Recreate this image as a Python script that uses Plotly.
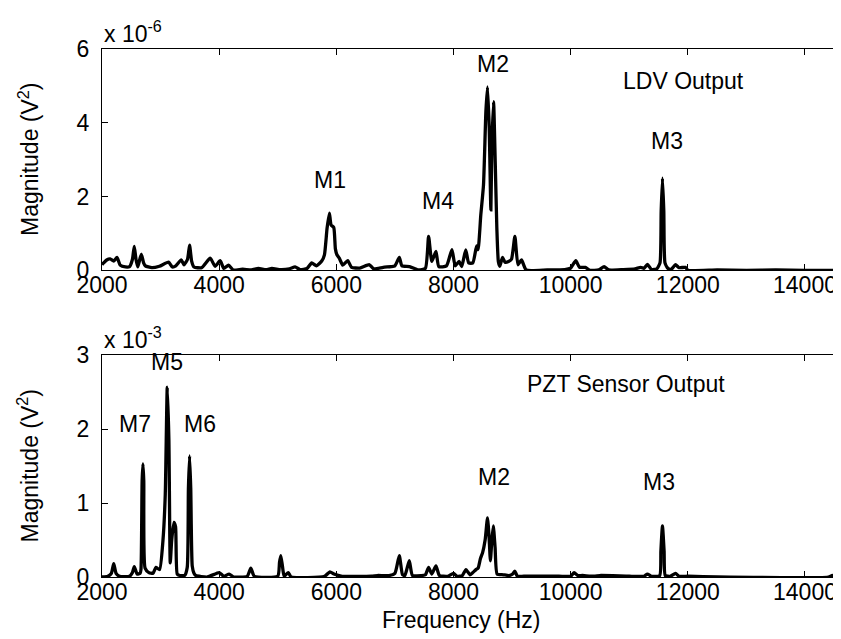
import plotly.graph_objects as go

# ---------------- data ----------------
# LDV output spectrum, magnitude in units of 1e-6 V^2
ldv_freq = [2000, 2028, 2080, 2140, 2200, 2256, 2310, 2400, 2470, 2520, 2551, 2580, 2610,
            2671, 2710, 2740, 2850, 2980, 3137, 3200, 3260, 3353, 3400, 3460, 3495, 3530,
            3570, 3700, 3847, 3930, 4017, 4080, 4160, 4240, 4400, 4550, 4670, 4800, 4900,
            5050, 5200, 5296, 5380, 5500, 5580, 5660, 5751, 5797, 5842, 5882, 5910, 5956,
            5984, 6010, 6050, 6110, 6194, 6260, 6400, 6564, 6640, 6800, 6933, 7000, 7075,
            7120, 7250, 7400, 7520, 7575, 7630, 7700, 7750, 7880, 7973, 8030, 8095, 8140,
            8209, 8260, 8330, 8395, 8420, 8466, 8512, 8553, 8581, 8610, 8638, 8655, 8684,
            8712, 8740, 8766, 8790, 8837, 8880, 8940, 8990, 9048, 9100, 9161, 9240, 9600,
            9900, 10000, 10087, 10150, 10250, 10330, 10480, 10571, 10650, 10900, 11100,
            11195, 11250, 11310, 11380, 11470, 11525, 11545, 11567, 11590, 11610, 11660,
            11720, 11790, 11850, 11960, 12000, 12500, 13000, 13500, 14000, 14700]
ldv_mag = [0.15, 0.20, 0.28, 0.31, 0.25, 0.35, 0.14, 0.09, 0.10, 0.30, 0.65, 0.30, 0.09,
           0.44, 0.20, 0.12, 0.07, 0.11, 0.22, 0.09, 0.12, 0.28, 0.15, 0.30, 0.68, 0.25,
           0.09, 0.07, 0.33, 0.11, 0.26, 0.05, 0.14, 0.01, 0.03, 0.01, 0.05, 0.02, 0.05,
           0.02, 0.04, 0.09, 0.02, 0.05, 0.20, 0.12, 0.25, 0.42, 1.14, 1.55, 1.23, 1.16,
           0.58, 0.42, 0.33, 0.14, 0.26, 0.08, 0.06, 0.15, 0.04, 0.08, 0.10, 0.12, 0.35,
           0.12, 0.10, 0.01, 0.05, 0.92, 0.24, 0.51, 0.10, 0.12, 0.56, 0.12, 0.24, 0.10,
           0.55, 0.20, 0.20, 0.66, 0.56, 1.50, 2.31, 4.30, 4.97, 3.85, 1.64, 3.40, 4.57,
           2.95, 1.14, 0.23, 0.11, 0.35, 0.22, 0.24, 0.30, 0.92, 0.15, 0.28, 0.01, 0.01,
           0.02, 0.06, 0.26, 0.08, 0.08, 0.00, 0.01, 0.10, 0.01, 0.02, 0.04,
           0.08, 0.05, 0.16, 0.02, 0.04, 0.20, 1.60, 2.50, 1.60, 0.20, 0.05,
           0.03, 0.15, 0.07, 0.08, 0.00, 0.01, 0.00, 0.01, 0.00, 0.00]

# PZT sensor output spectrum, magnitude in units of 1e-3 V^2
pzt_freq = [2000, 2100, 2160, 2200, 2240, 2300, 2470, 2520, 2551, 2600, 2650, 2665, 2685,
            2699, 2713, 2735, 2800, 2870, 2920, 2983, 3040, 3080, 3114, 3142, 3165, 3189,
            3228, 3256, 3284, 3330, 3410, 3455, 3475, 3495, 3515, 3540, 3570, 3600, 3800,
            4000, 4080, 4170, 4250, 4480, 4540, 4600, 5000, 5030, 5052, 5080, 5110, 5180,
            5230, 5800, 5890, 5960, 6100, 6600, 6700, 6900, 7000, 7075, 7130, 7170, 7245,
            7300, 7450, 7520, 7575, 7630, 7700, 7760, 7900, 8000, 8060, 8150, 8213, 8280,
            8330, 8384, 8420, 8460, 8497, 8540, 8581, 8610, 8630, 8655, 8680, 8710, 8745,
            8850, 8950, 9010, 9048, 9090, 9200, 9800, 10000, 10060, 10120, 10200, 10400,
            10500, 11000, 11250, 11310, 11380, 11520, 11540, 11567, 11595, 11615, 11700,
            11790, 11850, 12000, 12500, 14400, 14467, 14520, 14700]
pzt_mag = [0.00, 0.01, 0.05, 0.18, 0.05, 0.01, 0.01, 0.06, 0.14, 0.04, 0.05, 0.10, 1.30,
           1.53, 1.30, 0.12, 0.06, 0.05, 0.13, 0.10, 0.49, 1.12, 2.57, 1.85, 0.19, 0.49,
           0.74, 0.68, 0.04, 0.02, 0.02, 0.13, 1.20, 1.64, 1.20, 0.15, 0.05, 0.02, 0.00,
           0.06, 0.01, 0.04, 0.00, 0.01, 0.12, 0.01, 0.01, 0.20, 0.29, 0.15, 0.01, 0.06,
           0.00, 0.01, 0.07, 0.04, 0.01, 0.01, 0.02, 0.02, 0.05, 0.29, 0.03, 0.02, 0.22,
           0.02, 0.02, 0.03, 0.13, 0.04, 0.15, 0.02, 0.01, 0.05, 0.01, 0.02, 0.10, 0.03,
           0.06, 0.10, 0.12, 0.25, 0.33, 0.50, 0.80, 0.50, 0.22, 0.50, 0.69, 0.40, 0.04,
           0.03, 0.02, 0.04, 0.08, 0.01, 0.01, 0.01, 0.01, 0.06, 0.02, 0.02, 0.01,
           0.02, 0.01, 0.01, 0.04, 0.01, 0.02, 0.35, 0.69, 0.35, 0.02, 0.01,
           0.05, 0.01, 0.01, 0.00, 0.00, 0.02, 0.00, 0.00]

x_ticks = [2000, 4000, 6000, 8000, 10000, 12000, 14000]
ldv_y_ticks = [0, 2, 4, 6]
pzt_y_ticks = [0, 1, 2, 3]

# mode labels: (text, frequency, magnitude)
ldv_labels = [("M1", 5888, 2.46), ("M4", 7729, 1.89), ("M2", 8667, 5.60),
              ("M3", 11650, 3.51), ("LDV Output", 11920, 5.14)]
pzt_labels = [("M7", 2557, 2.07), ("M5", 3117, 2.91), ("M6", 3680, 2.07),
              ("M2", 8696, 1.35), ("M3", 11503, 1.28), ("PZT Sensor Output", 10940, 2.61)]

# ---------------- figure ----------------
FONT = "Liberation Sans, Arial, Helvetica, sans-serif"
FS = 23

fig = go.Figure()
fig.add_trace(go.Scatter(x=ldv_freq, y=ldv_mag, mode="lines",
                         line=dict(color="black", width=3.3, shape="spline", smoothing=0.5),
                         xaxis="x", yaxis="y", showlegend=False))
fig.add_trace(go.Scatter(x=pzt_freq, y=pzt_mag, mode="lines",
                         line=dict(color="black", width=3.3, shape="spline", smoothing=0.5),
                         xaxis="x2", yaxis="y2", showlegend=False))

axis_common = dict(showgrid=False, zeroline=False, showline=True, linecolor="black",
                   linewidth=1, mirror="ticks", ticks="inside", ticklen=6,
                   tickcolor="black", tickwidth=1,
                   tickfont=dict(family=FONT, size=FS, color="black"))

top_dom = [0.5809, 1.0]
bot_dom = [0.0, 0.4199]

fig.update_layout(
    width=841, height=639,
    margin=dict(l=94, r=3, t=41, b=70),
    paper_bgcolor="white", plot_bgcolor="white",
    font=dict(family=FONT, size=FS, color="black"),
    xaxis=dict(domain=[0, 1], range=[2000, 14700], tickvals=x_ticks,
               ticktext=[str(v) for v in x_ticks], anchor="y", ticklabelstandoff=-6,
               **axis_common),
    yaxis=dict(domain=top_dom, range=[0, 6], tickvals=ldv_y_ticks, anchor="x",
               ticklabelstandoff=7, **axis_common),
    xaxis2=dict(domain=[0, 1], range=[2000, 14700], tickvals=x_ticks,
                ticktext=[str(v) for v in x_ticks], anchor="y2", ticklabelstandoff=-6,
                **axis_common),
    yaxis2=dict(domain=bot_dom, range=[0, 3], tickvals=pzt_y_ticks, anchor="x2",
                ticklabelstandoff=7, **axis_common),
)

annotations = []
for txt, fx, fy in ldv_labels:
    annotations.append(dict(text=txt, x=fx, y=fy, xref="x", yref="y", showarrow=False,
                            xanchor="center", yanchor="middle",
                            font=dict(family=FONT, size=FS, color="black")))
for txt, fx, fy in pzt_labels:
    annotations.append(dict(text=txt, x=fx, y=fy, xref="x2", yref="y2", showarrow=False,
                            xanchor="center", yanchor="middle",
                            font=dict(family=FONT, size=FS, color="black")))

# exponent markers
annotations.append(dict(text="x 10<sup>-6</sup>", x=0.0, y=top_dom[1], xref="paper",
                        yref="paper", xanchor="left", yanchor="bottom", showarrow=False,
                        font=dict(family=FONT, size=FS, color="black")))
annotations.append(dict(text="x 10<sup>-3</sup>", x=0.0, y=bot_dom[1], xref="paper",
                        yref="paper", xanchor="left", yanchor="bottom", showarrow=False,
                        font=dict(family=FONT, size=FS, color="black")))

# axis titles
for dom in (top_dom, bot_dom):
    annotations.append(dict(text="Magnitude (V<sup>2</sup>)", x=-0.099,
                            y=(dom[0] + dom[1]) / 2, xref="paper", yref="paper",
                            textangle=-90, xanchor="center", yanchor="middle",
                            showarrow=False,
                            font=dict(family=FONT, size=FS, color="black")))
annotations.append(dict(text="Frequency (Hz)", x=0.4825, y=-0.082, xref="paper",
                        yref="paper", xanchor="center", yanchor="middle",
                        showarrow=False, font=dict(family=FONT, size=FS, color="black")))

fig.update_layout(annotations=annotations)

fig.write_html("out.html")
